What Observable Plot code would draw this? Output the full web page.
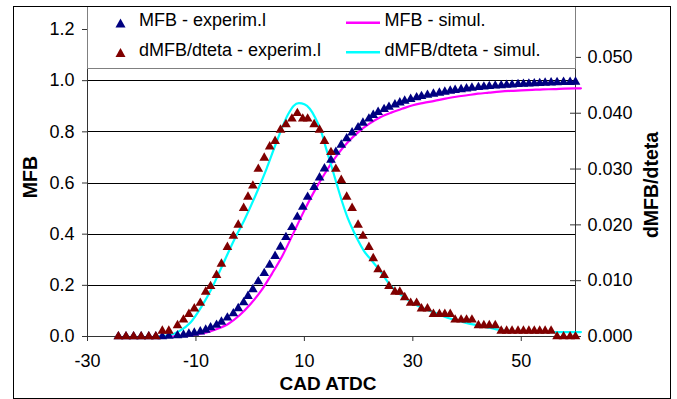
<!DOCTYPE html>
<html><head><meta charset="utf-8">
<script src="https://cdn.jsdelivr.net/npm/d3@7"></script>
<script src="https://cdn.jsdelivr.net/npm/@observablehq/plot@0.6"></script>
<style>
html,body{margin:0;padding:0;background:#fff;}
#wrap{position:relative;width:677px;height:399px;overflow:hidden;font-family:"Liberation Sans",Arial,sans-serif;}
#chart{position:absolute;left:0;top:0;}
#overlay{position:absolute;left:0;top:0;}
#border{position:absolute;left:13px;top:6px;width:656px;height:391px;border:1px solid #000;}
</style></head>
<body>
<div id="wrap"><div id="chart"></div>
<svg id="overlay" width="677" height="399" font-family="Liberation Sans, Arial, sans-serif">
  <rect x="87.5" y="6.5" width="488" height="62" fill="#fff" stroke="#808080"/>
  <path d="M120.5,18.5 L125.5,27.5 L115.5,27.5 Z" fill="#000080"/>
  <text x="139" y="26" font-size="18">MFB - experim.l</text>
  <path d="M120.5,48 L125.5,57 L115.5,57 Z" fill="#800000"/>
  <text x="139" y="55.5" font-size="18">dMFB/dteta - experim.l</text>
  <line x1="346" x2="380" y1="22.7" y2="22.7" stroke="#ff00ff" stroke-width="2.5"/>
  <text x="384.5" y="26" font-size="18">MFB - simul.</text>
  <line x1="346" x2="380" y1="52.3" y2="52.3" stroke="#00ffff" stroke-width="2.5"/>
  <text x="384.5" y="55.5" font-size="18">dMFB/dteta - simul.</text>
  <text transform="translate(37,177) rotate(-90)" text-anchor="middle" font-size="19.5" font-weight="bold">MFB</text>
  <text transform="translate(658,185) rotate(-90)" text-anchor="middle" font-size="19.5" font-weight="bold">dMFB/dteta</text>
  <text x="328" y="389.5" text-anchor="middle" font-size="19" font-weight="bold">CAD ATDC</text>
</svg>
<div id="border"></div>
</div>
<script>
const xTicks = [-30, -10, 10, 30, 50];
const mfbTicks = [0, 0.2, 0.4, 0.6, 0.8, 1.0, 1.2];
const dTicks = [0, 0.01, 0.02, 0.03, 0.04, 0.05];

const expCAD = [-24.3, -22.9, -21.5, -20.1, -18.7, -17.4, -16.2, -15.0, -13.4, -12.3, -11.3, -10.3, -9.2, -8.2, -7.3, -6.2, -5.3, -4.2, -3.1, -2.2, -1.2, -0.4, 0.5, 1.5, 2.6, 3.6, 4.6, 5.6, 6.6, 7.7, 8.7, 9.7, 10.6, 11.8, 12.8, 13.7, 14.9, 15.8, 16.8, 17.8, 18.8, 19.9, 20.8, 21.9, 22.7, 23.6, 24.7, 25.6, 26.7, 27.6, 28.5, 29.6, 30.7, 31.6, 32.7, 33.8, 34.9, 35.9, 36.9, 37.8, 38.9, 39.9, 40.9, 42.1, 43.1, 44.1, 45.2, 46.3, 47.3, 48.3, 49.4, 50.4, 51.4, 52.4, 53.4, 54.4, 55.5, 56.6, 57.8, 59.0, 60.0];
const expMFB = [0, 0, 0, 0, 0, 0, 0.000, 0.002, 0.004, 0.006, 0.010, 0.014, 0.019, 0.026, 0.035, 0.045, 0.057, 0.073, 0.090, 0.110, 0.133, 0.158, 0.184, 0.215, 0.247, 0.280, 0.314, 0.350, 0.388, 0.427, 0.467, 0.506, 0.545, 0.584, 0.621, 0.656, 0.690, 0.721, 0.749, 0.774, 0.797, 0.817, 0.835, 0.851, 0.865, 0.877, 0.888, 0.897, 0.906, 0.914, 0.921, 0.928, 0.934, 0.939, 0.944, 0.948, 0.952, 0.956, 0.960, 0.963, 0.966, 0.969, 0.972, 0.974, 0.976, 0.978, 0.980, 0.981, 0.983, 0.984, 0.986, 0.987, 0.988, 0.989, 0.990, 0.991, 0.992, 0.993, 0.994, 0.994, 0.995];
const expDMFB = [0, 0, 0, 0, 0, 0, 0.001, 0.001, 0.002, 0.003, 0.004, 0.005, 0.006, 0.008, 0.009, 0.011, 0.013, 0.016, 0.018, 0.020, 0.023, 0.025, 0.027, 0.030, 0.032, 0.034, 0.035, 0.037, 0.038, 0.039, 0.040, 0.039, 0.039, 0.038, 0.037, 0.035, 0.033, 0.030, 0.028, 0.025, 0.023, 0.020, 0.018, 0.016, 0.014, 0.012, 0.011, 0.009, 0.008, 0.008, 0.007, 0.006, 0.006, 0.005, 0.005, 0.004, 0.004, 0.004, 0.004, 0.003, 0.003, 0.003, 0.003, 0.002, 0.002, 0.002, 0.002, 0.001, 0.001, 0.001, 0.001, 0.001, 0.001, 0.001, 0.001, 0.001, 0.001, 0, 0, 0, 0];

const simCAD = [-16, -14, -12, -10, -8, -6, -4, -2, 0, 2, 4, 6, 8, 10, 12, 14, 16, 18, 20, 22, 24, 26, 28, 30, 32, 34, 36, 38, 40, 42, 44, 46, 48, 50, 52, 54, 56, 58, 60, 61];
const simMFB = [0.000, 0.001, 0.004, 0.008, 0.016, 0.030, 0.050, 0.082, 0.125, 0.178, 0.245, 0.318, 0.405, 0.493, 0.574, 0.645, 0.708, 0.759, 0.800, 0.832, 0.857, 0.875, 0.890, 0.904, 0.913, 0.921, 0.930, 0.937, 0.943, 0.949, 0.953, 0.957, 0.960, 0.962, 0.964, 0.966, 0.967, 0.969, 0.970, 0.970];

const simDCAD = [-17, -15, -13, -11, -9, -7, -5, -3, -1, 1, 3, 5, 7, 8, 9, 10, 11, 12, 13, 14, 15, 16, 17, 18, 19, 20, 21, 22, 24, 26, 28, 30, 32, 34, 36, 38, 40, 42, 44, 46, 48, 50, 53, 57, 61];
const simDMFB = [0.0000, 0.0002, 0.0010, 0.0025, 0.0053, 0.0088, 0.0130, 0.0172, 0.0210, 0.0253, 0.0300, 0.0352, 0.0398, 0.0413, 0.0418, 0.0416, 0.0408, 0.0392, 0.0370, 0.0337, 0.0305, 0.0272, 0.0240, 0.0212, 0.0190, 0.0170, 0.0153, 0.0141, 0.0117, 0.0090, 0.0073, 0.0060, 0.0050, 0.0043, 0.0035, 0.0029, 0.0024, 0.0020, 0.0016, 0.0012, 0.0010, 0.0009, 0.0008, 0.0008, 0.0008];

// secondary axis: 0..0.055 mapped onto 0..1.2
const K = 1.2 / 0.055;
const exp = expCAD.map((x, i) => ({x, mfb: expMFB[i], d: expDMFB[i] * K}));
const sim = simCAD.map((x, i) => ({x, mfb: simMFB[i]}));
const simD = simDCAD.map((x, i) => ({x, d: simDMFB[i] * K}));
const dTickPos = dTicks.map(v => v * K);

const chart = Plot.plot({
  width: 677, height: 399,
  marginLeft: 87, marginRight: 102, marginTop: 29, marginBottom: 63,
  style: {background: "transparent", fontFamily: "Liberation Sans, Arial, sans-serif", fontSize: "18px", color: "#000", overflow: "visible"},
  x: {domain: [-30, 60]},
  y: {domain: [0, 1.2]},
  marks: [
    Plot.ruleY(mfbTicks.filter(v => v > 0 && v < 1.2), {stroke: "#000", shapeRendering: "crispEdges"}),
    Plot.ruleY([0], {stroke: "#333", shapeRendering: "crispEdges"}),
    Plot.ruleX([-30, 60], {stroke: "#333", shapeRendering: "crispEdges"}),
    Plot.axisX(xTicks, {tickSize: 5, tickPadding: 13, tickFormat: d => String(d), label: null, stroke: "#333"}),
    Plot.axisY(mfbTicks, {anchor: "left", tickSize: 5, tickPadding: 8, tickFormat: d3.format(".1f"), label: null, stroke: "#333"}),
    Plot.axisY(dTickPos, {anchor: "right", tickSize: 11, dx: -6, tickFormat: () => "", label: null, stroke: "#333"}),
    Plot.axisY(dTickPos, {anchor: "right", tickSize: 0, tickPadding: 12, tickFormat: v => d3.format(".3f")(v / K), label: null}),
    Plot.line(sim, {x: "x", y: "mfb", stroke: "#ff00ff", strokeWidth: 2.2, curve: "monotone-x"}),
    Plot.line(simD, {x: "x", y: "d", stroke: "#00ffff", strokeWidth: 2.2, curve: "monotone-x"}),
    Plot.dot(exp, {x: "x", y: "mfb", symbol: "triangle", r: 3.6, fill: "#000080"}),
    Plot.dot(exp, {x: "x", y: "d", symbol: "triangle", r: 3.6, fill: "#800000"})
  ]
});
document.getElementById("chart").appendChild(chart);
</script>
</body></html>
